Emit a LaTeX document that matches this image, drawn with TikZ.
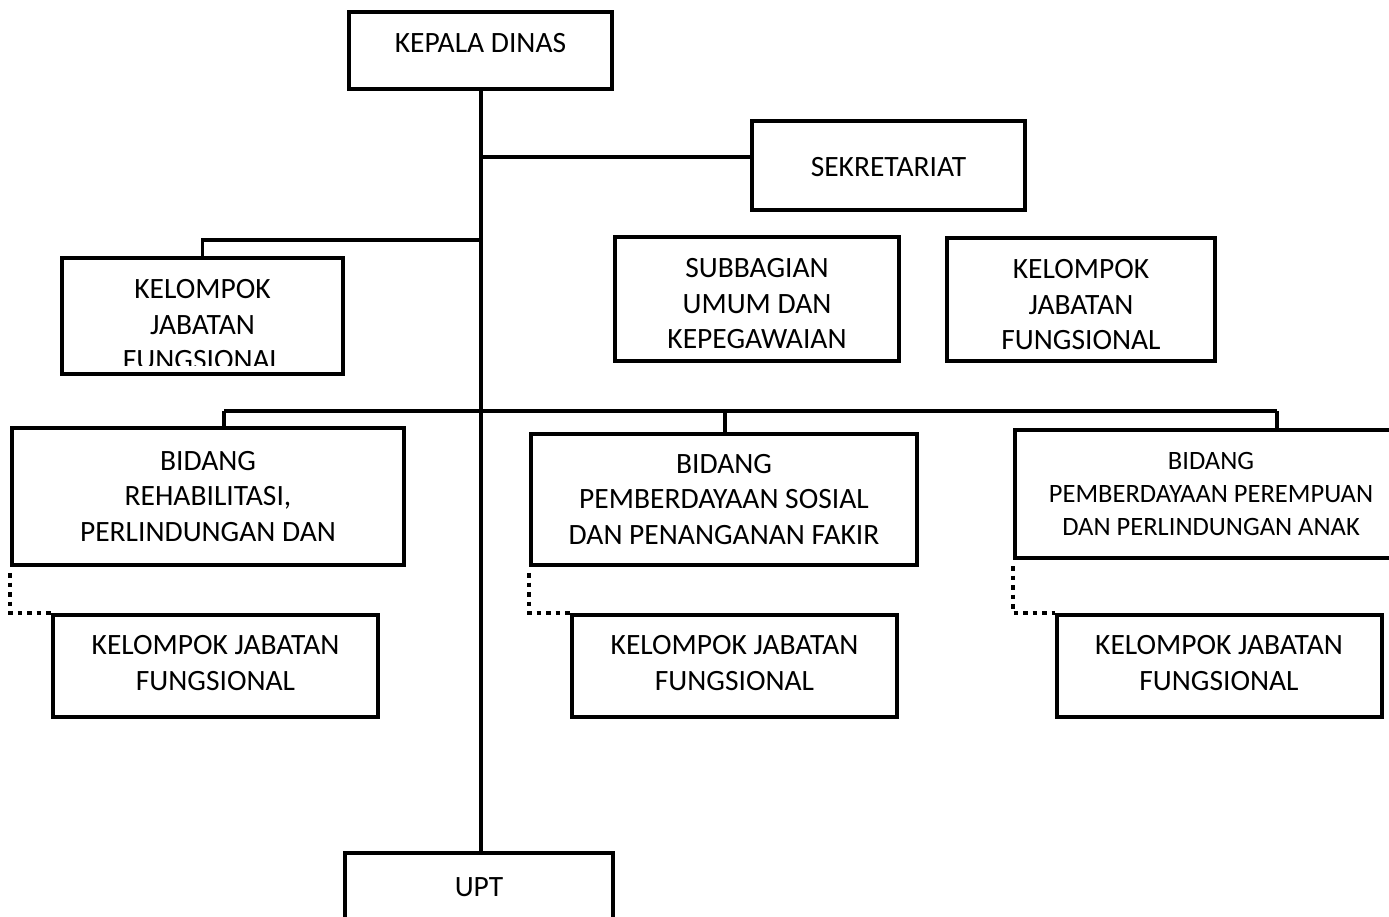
\documentclass[tikz,border=0pt]{standalone}
\usepackage{fontspec}
\setmainfont{Carlito}
\usetikzlibrary{positioning}
\newcommand\orgfont{\fontsize{29.5}{35.5}\selectfont}
\newcommand\orgsmall{\fontsize{26.5}{33}\selectfont}
\tikzset{
  unit/.style={draw=black, fill=white, line width=4pt, align=center,
    inner sep=0pt, font=\orgfont, text=black},
  txt/.style={align=center, inner sep=0pt, font=\orgfont, text=black},
  link/.style={draw=black, line width=3.5pt},
  dotlink/.style={draw=black, line width=4.5pt, dash pattern=on 4.5pt off 5pt},
}

\begin{document}
\begin{tikzpicture}[x=1pt, y=-1pt]
  \useasboundingbox (0,0) rectangle (1389,916);
  \fill[white] (0,0) rectangle (1389,916);
  \clip (0,0) rectangle (1389,916);
  % top and secretariat
  \node[unit, minimum width=263pt, minimum height=77pt] (kadis) at (480.5,50.5) {};
  \node[txt] (kadis-t) at (480.5,43) {KEPALA DINAS};
  \node[unit, minimum width=273pt, minimum height=89pt] (sekr) at (888.5,165.5) {};
  \node[txt] (sekr-t) at (888.5,167) {SEKRETARIAT};
  \node[unit, minimum width=284pt, minimum height=124pt] (sub) at (757,299) {};
  \node[txt] (sub-t) at (757,304) {SUBBAGIAN\\UMUM DAN\\KEPEGAWAIAN};
  \node[unit, minimum width=268pt, minimum height=123pt] (kjfr) at (1081,299.5) {};
  \node[txt] (kjfr-t) at (1081,305) {KELOMPOK\\JABATAN\\FUNGSIONAL};
  % left functional group, text cut by its box
  \node[unit, minimum width=281pt, minimum height=116pt] (kjfl) at (202.5,316) {};
  \begin{scope}
    \clip ([shift={(2pt,11pt)}]kjfl.south west) rectangle ([shift={(-2pt,-2pt)}]kjfl.north east);
    \node[txt] (kjfl-t) at (202.5,325) {KELOMPOK\\JABATAN\\FUNGSIONAL};
  \end{scope}
  % bidang
  \node[unit, minimum width=392pt, minimum height=137pt] (bid1) at (208,496.5) {BIDANG\\REHABILITASI,\\PERLINDUNGAN DAN};
  \node[unit, minimum width=386pt, minimum height=131pt] (bid2) at (724,499.5) {BIDANG\\PEMBERDAYAAN SOSIAL\\DAN PENANGANAN FAKIR};
  \node[unit, minimum width=392pt, minimum height=128pt, font=\orgsmall] (bid3) at (1211,494) {BIDANG\\PEMBERDAYAAN PEREMPUAN\\DAN PERLINDUNGAN ANAK};
  \foreach \k/\cx in {1/215.5, 2/734.5, 3/1219}
    \node[unit, minimum width=325pt, minimum height=102pt] (kjf\k) at (\cx,666) {KELOMPOK JABATAN\\FUNGSIONAL\rule[-6pt]{0pt}{0pt}};
  \node[unit, minimum width=268pt, minimum height=68pt] (upt) at (479,887) {UPT};
  % connectors
  \coordinate (jsek) at (481,157);
  \coordinate (jkjf) at (481,240);
  \coordinate (busl) at (224,411);
  \coordinate (busm) at (725,411);
  \coordinate (busr) at (1277,411);
  \draw[link] (481,0 |- kadis.south) coordinate (trunk) -- (trunk |- upt.north);
  \draw[link] (jsek) -- (jsek -| sekr.west);
  \draw[link] (jkjf) -| (kjfl.north);
  \draw[link] (busl) -- (busr);
  \draw[link] (busl) -- (busl |- bid1.north);
  \draw[link] (busm) -- (busm |- bid2.north);
  \draw[link] (busr) -- (busr |- bid3.north);
  \foreach \k in {1,2,3}
    \draw[dotlink] ([yshift=-6pt]bid\k.south west) |- (kjf\k.north west);
\end{tikzpicture}
\end{document}
